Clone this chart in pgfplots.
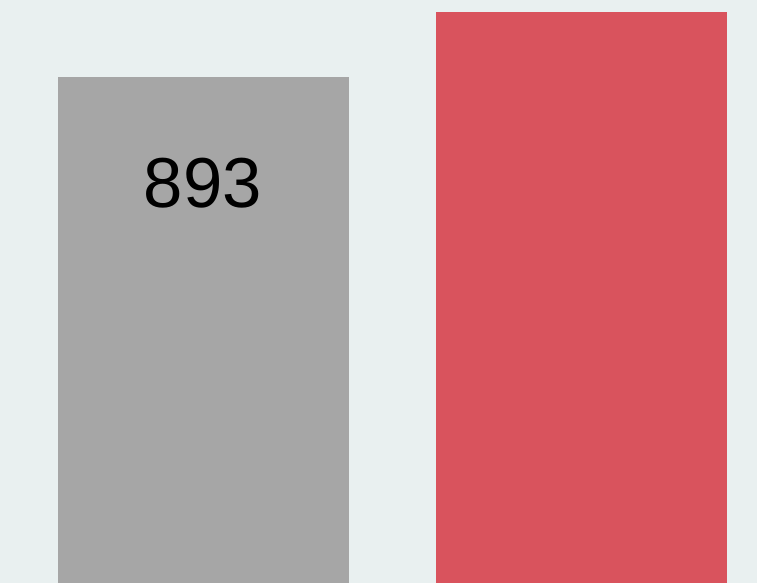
\documentclass[border=0pt]{standalone}
\usepackage{fontspec}
\setmainfont{Liberation Sans}
\usepackage{pgfplots}
\pgfplotsset{compat=1.18}
\definecolor{bg}{HTML}{E9F0F0}
\definecolor{gbar}{HTML}{A6A6A6}
\definecolor{rbar}{HTML}{D9535D}
\begin{document}
\begin{tikzpicture}
\fill[bg] (0,0) rectangle (757bp,583bp);
\begin{axis}[
  at={(0,0)}, anchor=south west,
  scale only axis, width=757bp, height=583bp,
  xmin=0, xmax=757, ymin=0, ymax=1029,
  axis x line=none, axis y line=none,
  ybar, bar width=291bp, bar shift=0pt,
  clip=false,
  /pgf/number format/assume math mode=true,
]
\addplot[fill=gbar, draw=none,
  nodes near coords,
  every node near coord/.append style={anchor=center, yshift=-106bp, font=\fontsize{71}{71}\selectfont, text=black}]
  coordinates {(203,893)};
\addplot[fill=rbar, draw=none] coordinates {(581,1008)};
\end{axis}
\end{tikzpicture}
\end{document}
